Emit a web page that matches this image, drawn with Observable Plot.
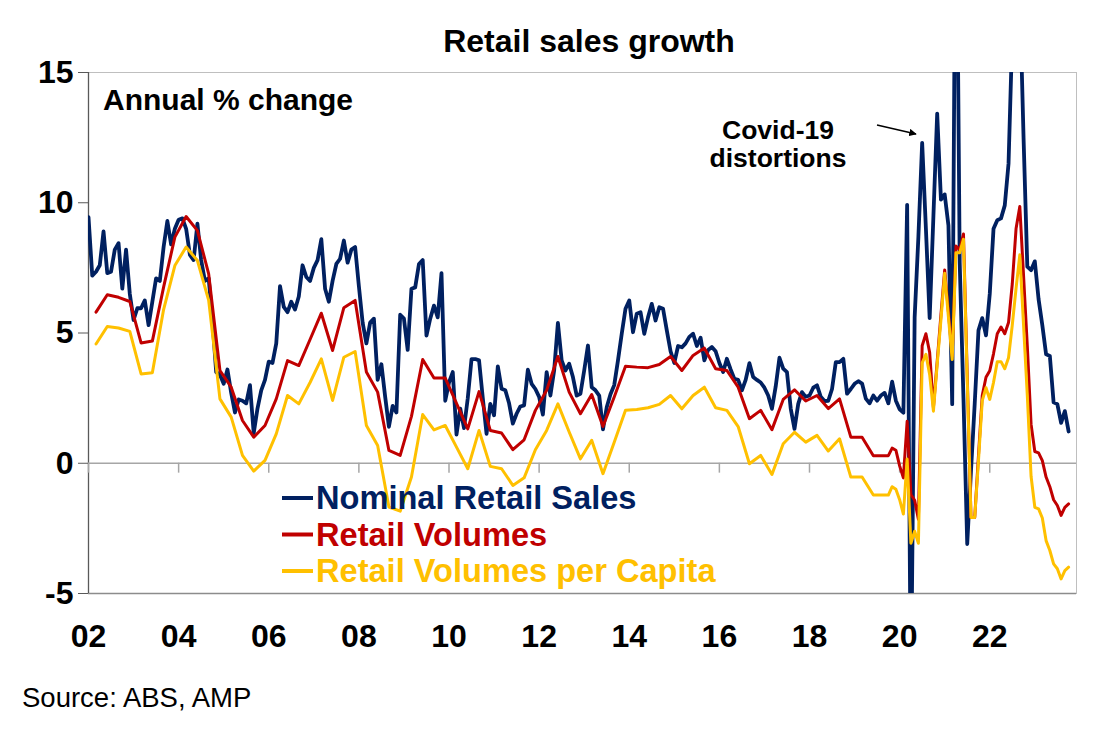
<!DOCTYPE html>
<html>
<head>
<meta charset="utf-8">
<script src="https://cdn.jsdelivr.net/npm/d3@7"></script>
<script src="https://cdn.jsdelivr.net/npm/@observablehq/plot@0.6"></script>
<style>
  html, body { margin: 0; padding: 0; background: #fff; }
  #chart { width: 1107px; height: 733px; }
  svg { font-family: Arial, "Liberation Sans", sans-serif; }
</style>
</head>
<body>
<div id="chart"></div>
<script>
// ---------- DATA ----------
const startYear = 2002; // month index 0 = Jan 2002

// Nominal retail sales, annual % change, monthly from Jan 2002 to Oct 2023
const nominal = [
  9.45, 7.2, 7.35, 7.6, 8.9, 7.3, 7.35, 8.2, 8.45, 6.7, 8.2, 6.5,          // 2002
  5.5, 5.95, 5.95, 6.25, 5.3, 6.2, 7.1, 7.0, 8.3, 9.3, 8.4, 9.0,           // 2003
  9.35, 9.4, 9.0, 8.0, 7.8, 9.2, 7.8, 7.0, 7.1, 5.5, 3.5, 3.4,             // 2004
  3.05, 3.6, 2.7, 1.95, 2.45, 2.4, 2.3, 3.0, 1.15, 2.1, 2.8, 3.2,          // 2005
  3.9, 3.85, 4.6, 6.8, 6.0, 5.8, 6.2, 5.9, 6.4, 7.6, 7.15, 7.0,            // 2006
  7.5, 7.8, 8.6, 6.7, 6.2, 7.0, 7.65, 7.85, 8.55, 7.7, 8.2, 8.3,           // 2007
  6.8, 5.4, 4.6, 5.4, 5.55, 3.2, 3.8, 2.55, 1.4, 2.2, 1.95, 5.7,           // 2008
  5.55, 4.35, 6.7, 6.75, 7.65, 7.8, 4.9, 5.55, 6.05, 5.6, 7.3, 2.4,        // 2009
  3.1, 3.5, 1.1, 2.1, 1.35, 2.5, 4.0, 4.0, 3.95, 2.5, 1.13, 2.28,          // 2010
  1.84, 3.72, 2.86, 2.8, 2.3, 1.52, 1.9, 2.18, 2.22, 3.59, 3.05, 2.85,     // 2011
  2.55, 1.87, 3.5, 2.6, 3.56, 5.39, 3.95, 3.56, 3.82, 3.31, 2.6, 2.67,     // 2012
  3.56, 4.52, 2.92, 2.8, 2.6, 1.3, 2.15, 2.65, 3.0, 3.95, 4.97, 5.93,      // 2013
  6.25, 5.03, 5.74, 5.8, 4.97, 5.6, 6.12, 5.48, 5.99, 5.93, 5.1, 4.3,      // 2014
  3.85, 4.5, 4.45, 4.6, 4.85, 4.97, 4.5, 4.82, 3.95, 4.35, 4.46, 4.3,      // 2015
  3.85, 3.5, 4.01, 3.6, 3.24, 3.2, 2.8, 3.2, 3.84, 3.31, 3.2, 3.1,         // 2016
  2.9, 2.6, 2.09, 2.95, 4.05, 3.63, 3.5, 2.1, 1.32, 2.28, 2.73, 2.55,      // 2017
  2.6, 2.9, 2.99, 2.55, 2.39, 2.4, 2.85, 3.88, 3.88, 4.01, 2.67, 2.85,     // 2018
  3.05, 3.15, 3.06, 2.48, 2.3, 2.6, 2.4, 2.6, 2.7, 2.3, 3.13, 2.4,         // 2019
  2.07, 1.94, 9.92, -9.2, 5.6, 8.7, 12.3, 9.0, 5.57, 9.5, 13.42, 10.12,    // 2020
  10.32, 9.13, 2.27, 25.0, 7.7, 2.5, -3.1, -0.3, 2.3, 5.1, 5.57, 4.91,     // 2021
  6.5, 9.0, 9.33, 9.4, 9.9, 11.5, 16.5, 20.0, 18.0, 12.5, 7.55, 7.41,      // 2022
  7.75, 6.3, 5.3, 4.18, 4.12, 2.34, 2.27, 1.55, 2.0, 1.22                  // 2023
];

// Retail volumes, annual % change: quarterly (Mar 2002 .. Sep 2019)
const volumesQ = [
  5.8, 6.47, 6.37, 6.21, 4.62, 4.69, 6.76, 8.68, 9.47, 8.93, 7.27, 3.56,
  2.92, 1.64, 1.0, 1.45, 2.47, 3.94, 3.75, 4.75, 5.76, 4.33, 5.97, 6.25,
  3.5, 2.73, 0.49, 0.3, 1.8, 3.98, 3.27, 3.27, 2.3, 1.32, 2.75, 1.26,
  1.16, 0.52, 0.9, 2.03, 2.8, 4.1, 2.73, 1.9, 2.64, 1.41, 2.54, 3.72,
  3.69, 3.67, 3.79, 4.1, 3.56, 4.14, 4.42, 3.63, 3.56, 2.92, 1.71, 2.03,
  1.29, 2.45, 2.82, 2.39, 2.6, 2.1, 2.47, 1.0, 1.0, 0.29, 0.29
];
// Retail volumes, monthly (Oct 2019 .. Oct 2023)
const volumesM = [
  0.29, 0.58, 0.5,
  -0.1, -0.56, 1.61, -1.2, -1.42, -2.15, 4.51, 4.97, 4.25, 2.14, 3.9, 5.7,
  7.42, 5.8, 4.12, 8.34, 8.2, 8.8, 3.4, -2.08, -2.08, 0.3, 2.6, 3.3,
  3.55, 4.2, 4.97, 5.23, 4.97, 5.4, 6.89, 9.0, 9.86, 7.2, 4.5, 1.5,
  0.45, 0.4, 0.1, -0.53, -0.9, -1.4, -1.62, -2.0, -1.69, -1.56
];

// Retail volumes per capita: quarterly (Mar 2002 .. Sep 2019)
const perCapitaQ = [
  4.58, 5.25, 5.19, 5.06, 3.43, 3.47, 5.9, 7.59, 8.3, 7.78, 6.25, 2.47,
  1.77, 0.3, -0.3, 0.11, 1.13, 2.6, 2.28, 3.1, 4.01, 2.41, 4.07, 4.29,
  1.45, 0.68, -1.68, -1.84, -0.53, 1.87, 1.28, 1.45, 0.62, -0.21, 1.26, -0.12,
  -0.21, -0.85, -0.56, 0.52, 1.26, 2.28, 1.2, 0.17, 0.88, -0.4, 0.81, 2.03,
  2.06, 2.13, 2.26, 2.6, 2.09, 2.6, 2.92, 2.13, 2.03, 1.41, -0.02, 0.3,
  -0.43, 0.75, 1.19, 0.81, 1.07, 0.47, 0.94, -0.53, -0.53, -1.22, -1.22
];
// Retail volumes per capita, monthly (Oct 2019 .. Oct 2023)
const perCapitaM = [
  -1.22, -0.9, -1.0,
  -1.4, -1.95, 0.16, -3.07, -2.61, -3.07, 3.85, 4.18, 3.4, 2.0, 3.8, 5.5,
  7.29, 5.6, 3.98, 8.08, 8.08, 8.6, 3.2, -2.08, -2.08, 0.1, 2.4, 2.9,
  2.45, 3.1, 3.9, 3.9, 3.63, 4.05, 5.3, 6.7, 8.0, 5.3, 2.6, -0.5,
  -1.69, -1.75, -2.1, -2.97, -3.35, -3.86, -4.05, -4.44, -4.12, -3.99
];

const seriesNames = ["Nominal Retail Sales", "Retail Volumes", "Retail Volumes per Capita"];
const seriesColors = ["#002060", "#C00000", "#FFC000"];
const yTicks = [-5, 0, 5, 10, 15];
const xTickLabels = ["02", "04", "06", "08", "10", "12", "14", "16", "18", "20", "22"];

// ---------- BUILD ----------
const qStart = 2;           // Mar 2002
const mStart = 213;         // Oct 2019
const nomData = nominal.map((v, i) => ({m: i, v}));
const volData = [
  ...volumesQ.map((v, i) => ({m: qStart + 3 * i, v})),
  ...volumesM.map((v, i) => ({m: mStart + i, v}))
];
const pcData = [
  ...perCapitaQ.map((v, i) => ({m: qStart + 3 * i, v})),
  ...perCapitaM.map((v, i) => ({m: mStart + i, v}))
];
const xTicks = xTickLabels.map((d, i) => i * 24);

const W = 1107, H = 733;
const mL = 88, mR = 31, mT = 72, mB = 140;

const plot = Plot.plot({
  width: W, height: H,
  marginLeft: mL, marginRight: mR, marginTop: mT, marginBottom: mB,
  style: {fontFamily: 'Arial, "Liberation Sans", sans-serif', background: "#fff"},
  x: {type: "linear", domain: [0, 263.1], axis: null},
  y: {domain: [-5, 15], axis: null},
  marks: [
    // frame
    Plot.frame({stroke: "#BFBFBF", strokeWidth: 1}),
    Plot.ruleY([-5], {stroke: "#8C8C8C", strokeWidth: 1.3}),
    Plot.ruleX([0], {stroke: "#595959", strokeWidth: 1.3}),
    // zero line and its tick marks
    Plot.ruleY([0], {stroke: "#A6A6A6", strokeWidth: 1.5}),
    Plot.ruleX(xTicks, {x: d => d, y1: 0, y2: -0.38, stroke: "#A6A6A6", strokeWidth: 1.5}),
    // y axis
    Plot.axisY(yTicks, {
      label: null,
      tickSize: 10, tickPadding: 5, tickFormat: d => String(d),
      fontSize: 32, fontWeight: "bold", fill: "#000", stroke: "#595959"
    }),
    // x axis labels
    Plot.axisX(xTicks, {
      label: null,
      anchor: "bottom", tickSize: 0, tickPadding: 31,
      tickFormat: (d, i) => xTickLabels[i],
      fontSize: 32, fontWeight: "bold", fill: "#000"
    }),
    // series
    Plot.line(nomData, {x: "m", y: "v", stroke: seriesColors[0], strokeWidth: 3.8, clip: true, strokeLinejoin: "round"}),
    Plot.line(volData, {x: "m", y: "v", stroke: seriesColors[1], strokeWidth: 3, clip: true, strokeLinejoin: "round"}),
    Plot.line(pcData, {x: "m", y: "v", stroke: seriesColors[2], strokeWidth: 3, clip: true, strokeLinejoin: "round"})
  ]
});

document.getElementById("chart").appendChild(plot);

// ---------- ANNOTATIONS ----------
const svg = d3.select(plot);
const font = 'Arial, "Liberation Sans", sans-serif';

svg.append("text")
  .attr("x", 589).attr("y", 52)
  .attr("text-anchor", "middle")
  .attr("font-family", font).attr("font-size", 32).attr("font-weight", "bold")
  .attr("fill", "#000")
  .text("Retail sales growth");

svg.append("text")
  .attr("x", 103).attr("y", 110)
  .attr("text-anchor", "start")
  .attr("font-family", font).attr("font-size", 30).attr("font-weight", "bold")
  .attr("fill", "#000")
  .text("Annual % change");

const cov = svg.append("text")
  .attr("text-anchor", "middle")
  .attr("font-family", font).attr("font-size", 26.5).attr("font-weight", "bold")
  .attr("fill", "#000");
cov.append("tspan").attr("x", 778).attr("y", 139).text("Covid-19");
cov.append("tspan").attr("x", 778).attr("y", 167).text("distortions");

// arrow
const defs = svg.append("defs");
defs.append("marker")
  .attr("id", "arrowhead").attr("viewBox", "0 0 10 10")
  .attr("refX", 9).attr("refY", 5)
  .attr("markerWidth", 5).attr("markerHeight", 5)
  .attr("orient", "auto")
  .append("path").attr("d", "M0,0 L10,5 L0,10 z").attr("fill", "#000");
svg.append("line")
  .attr("x1", 877).attr("y1", 125).attr("x2", 916).attr("y2", 134)
  .attr("stroke", "#000").attr("stroke-width", 1.5)
  .attr("marker-end", "url(#arrowhead)");

// legend
const legend = svg.append("g");
seriesNames.forEach((name, i) => {
  const base = 509 + i * 36.5;
  legend.append("line")
    .attr("x1", 282).attr("x2", 313)
    .attr("y1", base - 11).attr("y2", base - 11)
    .attr("stroke", seriesColors[i]).attr("stroke-width", 4);
  legend.append("text")
    .attr("x", 316).attr("y", base)
    .attr("text-anchor", "start")
    .attr("font-family", font).attr("font-size", 32.6).attr("font-weight", "bold")
    .attr("fill", seriesColors[i])
    .text(name);
});

// source
svg.append("text")
  .attr("x", 22).attr("y", 707)
  .attr("text-anchor", "start")
  .attr("font-family", font).attr("font-size", 27.5)
  .attr("fill", "#000")
  .text("Source: ABS, AMP");
</script>
</body>
</html>
